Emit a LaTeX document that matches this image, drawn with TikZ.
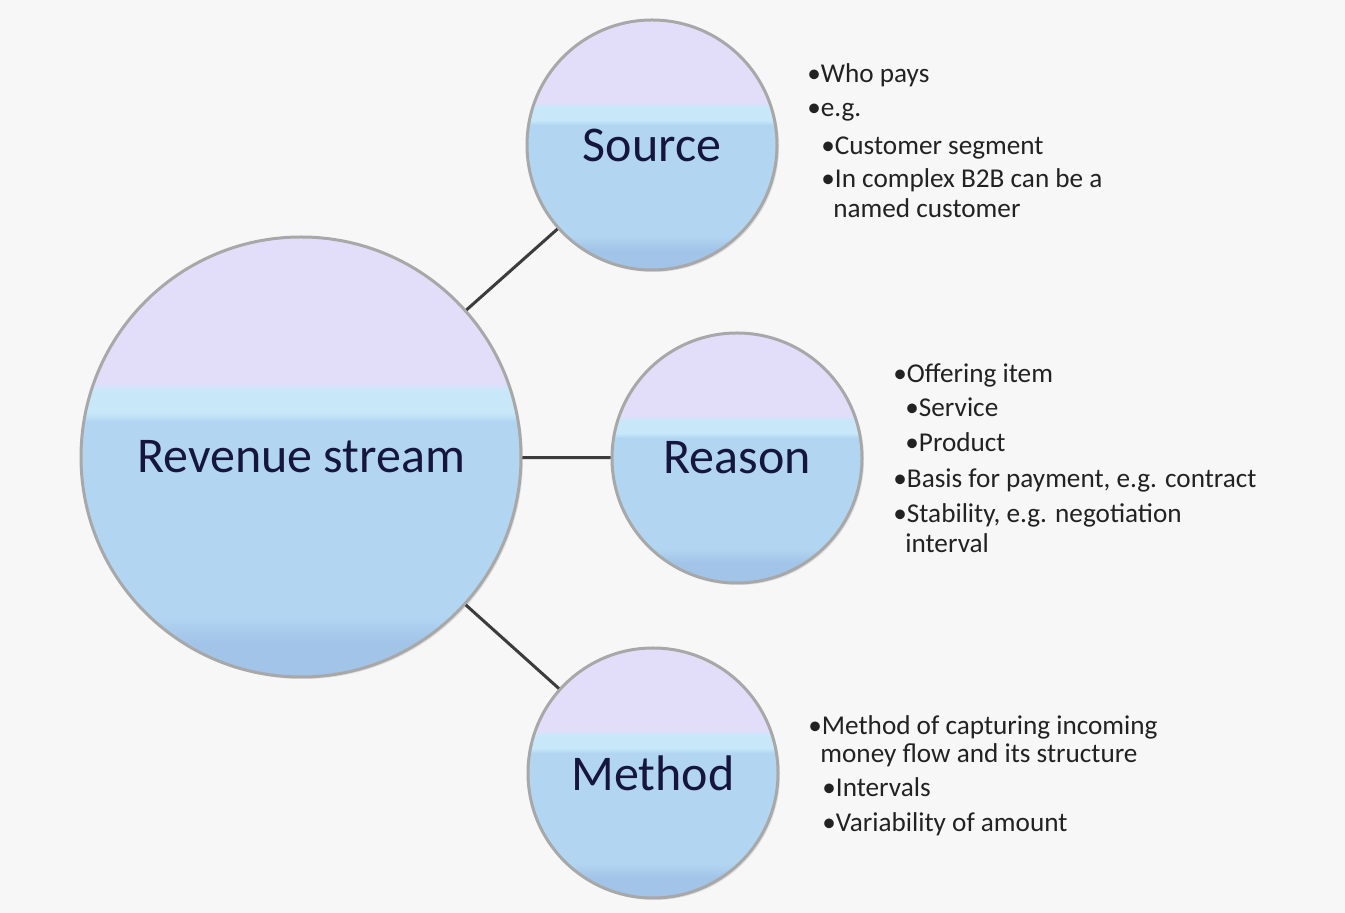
\documentclass[tikz,border=0pt]{standalone}
\usepackage{fontspec}
\setmainfont{Carlito}
\usetikzlibrary{shadows}

\definecolor{bglight}{HTML}{F7F7F7}
\definecolor{bubblelav}{HTML}{E2DEFA}
\definecolor{bubblecyan}{HTML}{C8E8FA}
\definecolor{bubbleblue}{HTML}{B2D6F2}
\definecolor{bubblebot}{HTML}{A2C4E8}
\definecolor{bubbleline}{HTML}{A8A8A8}
\definecolor{labelnavy}{HTML}{16163C}
\definecolor{pointgray}{HTML}{222222}
\definecolor{linkgray}{HTML}{3C3C3C}

\pgfdeclareverticalshading{bubbleshade}{100bp}{color(0bp)=(bubblebot); color(29bp)=(bubblebot); color(32bp)=(bubbleblue); color(54bp)=(bubbleblue); color(55bp)=(bubblecyan); color(57.5bp)=(bubblecyan); color(58.5bp)=(bubblelav); color(100bp)=(bubblelav)}

\tikzset{
	bubble/.style={circle, draw=bubbleline, line width=1.5pt, shade, shading=bubbleshade, text=labelnavy, font=\fontsize{25}{30}\selectfont, inner sep=0pt, drop shadow={shadow xshift=1pt, shadow yshift=-1pt, opacity=0.2}},
	point/.style={anchor=base west, inner sep=0pt, text=pointgray, font=\fontsize{13.6}{15}\selectfont},
	link/.style={draw=linkgray, line width=1.5pt}
}

\begin{document}
\begin{tikzpicture}[x=0.5pt, y=-0.5pt]
		%%%%% START %%%%%
		
		\fill[bglight] (0, 0) rectangle (1345, 913);
		\useasboundingbox (0, 0) rectangle (1345, 913);
		
		\node[bubble, minimum size=220pt] (rev) at (301, 457) {Revenue stream};
		\node[bubble, minimum size=125pt] (src) at (652, 145) {Source};
		\node[bubble, minimum size=125pt] (rsn) at (737, 458) {Reason};
		\node[bubble, minimum size=125pt] (mtd) at (653, 773) {Method};
		
		\draw[link] (rev) -- (src);
		\draw[link] (rev) -- (rsn);
		\draw[link] (rev) -- (mtd);
		
		% source
		\node[point] (src1) at (807, 83) {•Who pays};
		\node[point] (src2) at (807, 117) {•e.g.};
		\node[point] (src3) at (821, 155) {•Customer segment};
		\node[point] (src4) at (821, 188) {•In complex B2B can be a};
		\node[point] (src5) at (833, 218) {named customer};
		
		% reason
		\node[point] (rsn1) at (893, 383) {•Offering item};
		\node[point] (rsn2) at (905, 417) {•Service};
		\node[point] (rsn3) at (905, 452) {•Product};
		\node[point] (rsn4) at (893, 488) {•Basis for payment, e.g. contract};
		\node[point] (rsn5) at (893, 523) {•Stability, e.g. negotiation};
		\node[point] (rsn6) at (905, 553) {interval};
		
		% method
		\node[point] (mtd1) at (808, 735) {•Method of capturing incoming};
		\node[point] (mtd2) at (820, 763) {money flow and its structure};
		\node[point] (mtd3) at (822, 797) {•Intervals};
		\node[point] (mtd4) at (822, 832) {•Variability of amount};
		
		%%%%% END %%%%%
	\end{tikzpicture}
\end{document}
